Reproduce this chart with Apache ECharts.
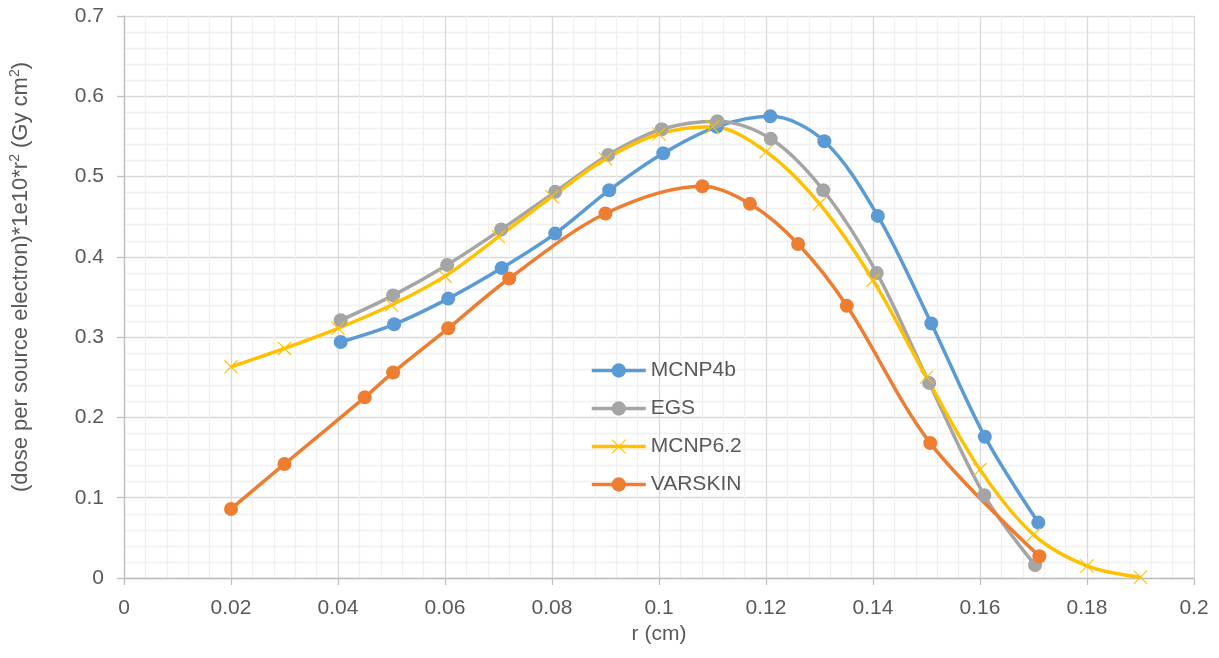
<!DOCTYPE html>
<html>
<head>
<meta charset="utf-8">
<title>dose profile</title>
<script src="https://cdn.jsdelivr.net/npm/echarts@6/dist/echarts.min.js"></script>
<style>
  html, body { margin: 0; padding: 0; background: #fff; }
  #main { width: 1219px; height: 658px; }
</style>
</head>
<body>
<div id="main"></div>
<script>
// values: r (cm) and dose*1e10*r^2
var mcnp4bR = [0.0405, 0.0505, 0.0606, 0.0706, 0.0806, 0.0907, 0.1008, 0.1108, 0.1208, 0.1309, 0.1409, 0.1509, 0.1609, 0.1709];
var mcnp4bY = [0.294, 0.316, 0.348, 0.386, 0.429, 0.483, 0.529, 0.562, 0.575, 0.544, 0.451, 0.317, 0.176, 0.069];

var egsR = [0.0405, 0.0503, 0.0604, 0.0705, 0.0806, 0.0905, 0.1005, 0.1109, 0.1209, 0.1307, 0.1407, 0.1505, 0.1608, 0.1703];
var egsY = [0.321, 0.352, 0.390, 0.434, 0.481, 0.527, 0.559, 0.569, 0.547, 0.483, 0.380, 0.243, 0.103, 0.016];

var mcnp62R = [0.02, 0.03, 0.04, 0.05, 0.06, 0.07, 0.08, 0.09, 0.10, 0.11, 0.12, 0.13, 0.14, 0.15, 0.16, 0.17, 0.18, 0.19];
var mcnp62Y = [0.263, 0.286, 0.311, 0.340, 0.376, 0.425, 0.475, 0.522, 0.553, 0.562, 0.531, 0.466, 0.371, 0.250, 0.135, 0.054, 0.015, 0.001];

var varskinR = [0.02, 0.03, 0.045, 0.0503, 0.0606, 0.072, 0.090, 0.1081, 0.117, 0.126, 0.1351, 0.1507, 0.1711];
var varskinY = [0.086, 0.142, 0.225, 0.256, 0.311, 0.373, 0.454, 0.488, 0.466, 0.416, 0.339, 0.168, 0.027];

var xTicks = { min: 0, max: 0.2, step: 0.02 };
var yTicks = { min: 0, max: 0.7, step: 0.1 };

function pairs(xs, ys) {
    return xs.map(function (x, i) { return [x, ys[i]]; });
}

var crossPath = 'path://M0,0.8L0.8,0L14,13.2L13.2,14Z M13.2,0L14,0.8L0.8,14L0,13.2Z';
var txt = '#595959';
var font = '"Liberation Sans", Arial, sans-serif';

function lineSeries(name, data, color, symbol) {
    return {
        name: name,
        type: 'line',
        data: data,
        smooth: 0.33,
        symbol: symbol || 'circle',
        symbolSize: 14,
        showSymbol: true,
        lineStyle: { color: color, width: 3.5 },
        itemStyle: { color: color },
        emphasis: { disabled: true }
    };
}

var chart = echarts.init(document.getElementById('main'), null, { renderer: 'canvas' });

var axisCommon = {
    type: 'value',
    axisLine: { show: true, lineStyle: { color: '#bfbfbf', width: 1.3 } },
    axisTick: { show: true, length: 7, lineStyle: { color: '#bfbfbf', width: 1.3 } },
    splitLine: { show: true, lineStyle: { color: '#d9d9d9', width: 1.3 } },
    minorTick: { show: false, splitNumber: 5 },
    minorSplitLine: { show: true, lineStyle: { color: '#f0f0f0', width: 1.3 } },
    axisLabel: { color: txt, fontSize: 21, fontFamily: font, margin: 20 },
    nameTextStyle: { color: txt, fontSize: 21, fontFamily: font }
};

chart.setOption({
    backgroundColor: '#fff',
    animation: false,
    textStyle: { fontFamily: font },
    grid: { left: 124, right: 25, top: 16, bottom: 80, containLabel: false },
    xAxis: Object.assign({}, axisCommon, {
        min: xTicks.min, max: xTicks.max, interval: xTicks.step,
        name: 'r (cm)',
        nameLocation: 'middle',
        nameGap: 46
    }),
    yAxis: Object.assign({}, axisCommon, {
        min: yTicks.min, max: yTicks.max, interval: yTicks.step,
        name: '{a|(dose per source electron)*1e10*r}{s|2}{a| (Gy cm}{s|2}{a|)}',
        nameLocation: 'middle',
        nameGap: 90,
        nameTextStyle: {
            color: txt, fontFamily: font, fontSize: 22,
            padding: [0, 0, 0, 40],
            rich: {
                a: { color: txt, fontFamily: font, fontSize: 22, lineHeight: 26 },
                s: { color: txt, fontFamily: font, fontSize: 14, lineHeight: 26, verticalAlign: 'top', padding: [0, 0, 6, 0] }
            }
        }
    }),
    legend: {
        orient: 'vertical',
        left: 585,
        top: 355,
        itemWidth: 54,
        itemHeight: 18,
        itemGap: 17,
        lineStyle: { width: 3.5 },
        textStyle: { color: txt, fontSize: 21, fontFamily: font },
        data: ['MCNP4b', 'EGS', 'MCNP6.2', 'VARSKIN']
    },
    series: [
        lineSeries('MCNP4b', pairs(mcnp4bR, mcnp4bY), '#5B9BD5'),
        lineSeries('EGS', pairs(egsR, egsY), '#A5A5A5'),
        lineSeries('MCNP6.2', pairs(mcnp62R, mcnp62Y), '#FFC000', crossPath),
        lineSeries('VARSKIN', pairs(varskinR, varskinY), '#ED7D31')
    ]
});
</script>
</body>
</html>
